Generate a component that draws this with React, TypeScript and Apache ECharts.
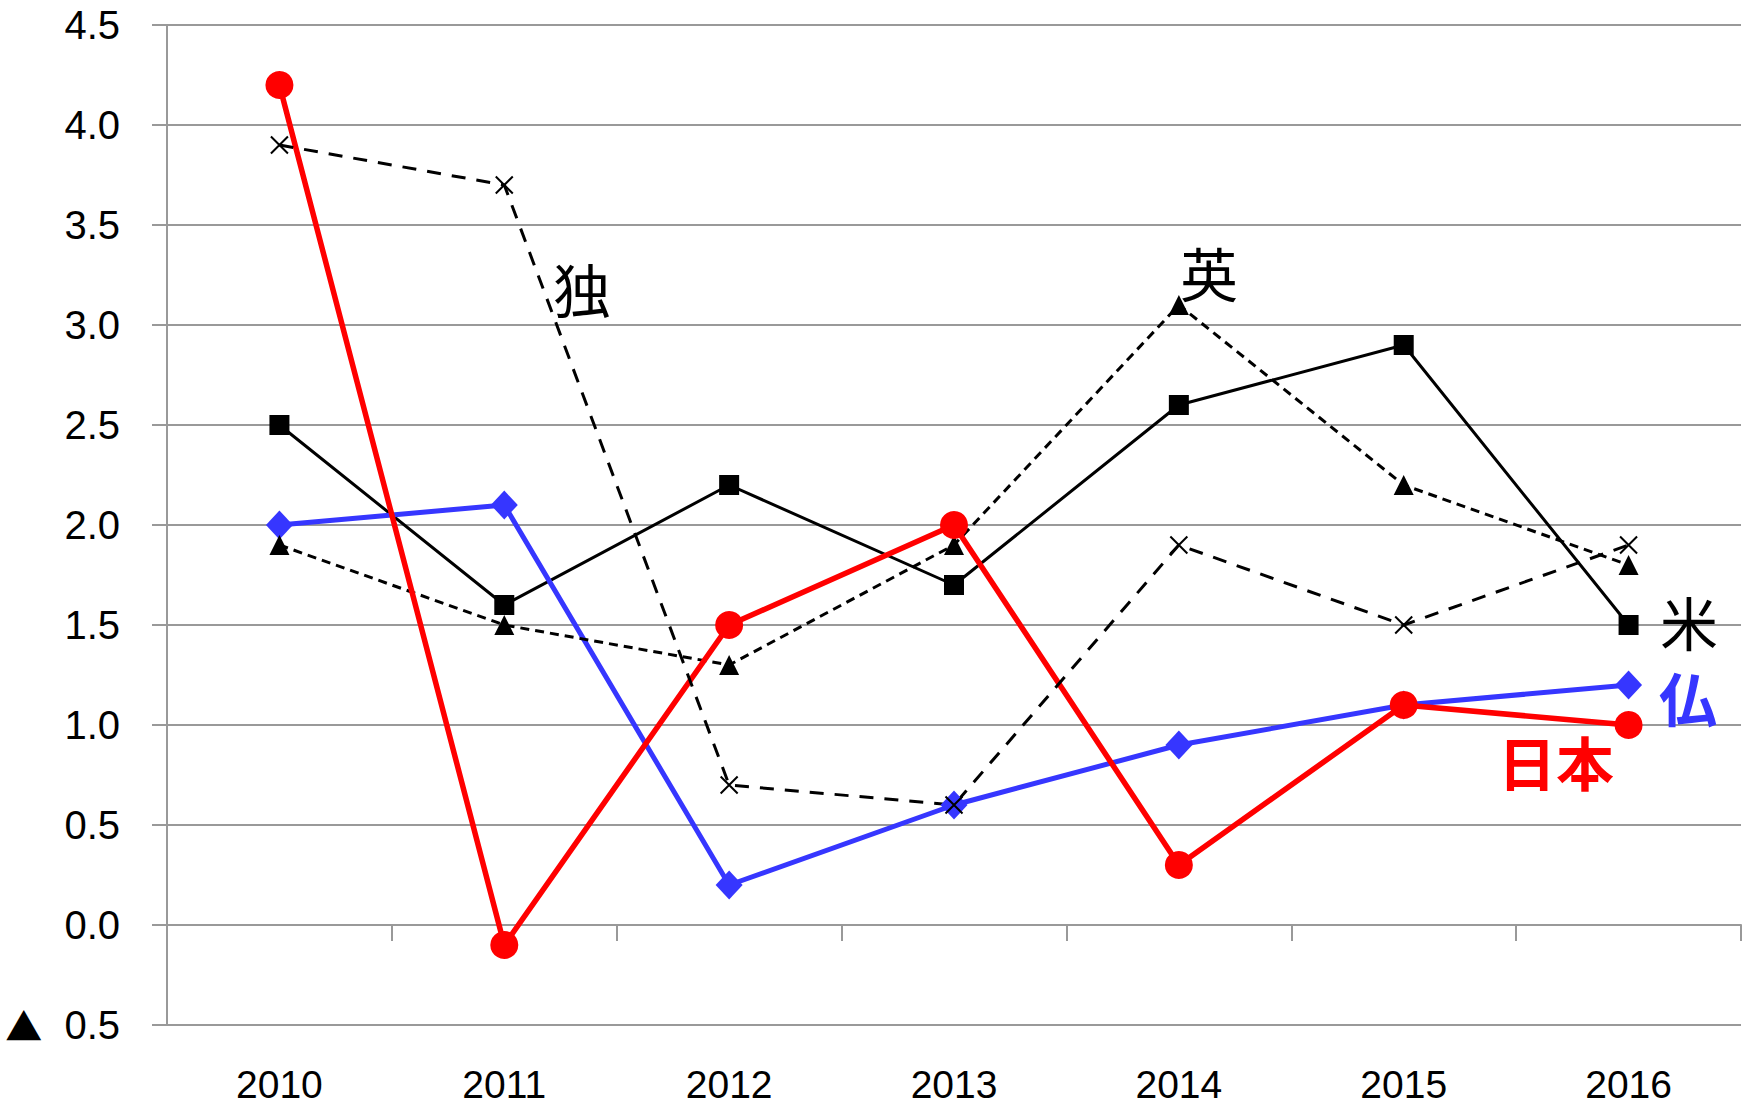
import React, { useEffect, useRef } from "react";
import * as echarts from "echarts";

// ---- data ----
const years = ["2010", "2011", "2012", "2013", "2014", "2015", "2016"];
const usValues = [2.5, 1.6, 2.2, 1.7, 2.6, 2.9, 1.5];
const franceValues = [2.0, 2.1, 0.2, 0.6, 0.9, 1.1, 1.2];
const japanValues = [4.2, -0.1, 1.5, 2.0, 0.3, 1.1, 1.0];
const ukValues = [1.9, 1.5, 1.3, 1.9, 3.1, 2.2, 1.8];
const germanyValues = [3.9, 3.7, 0.7, 0.6, 1.9, 1.5, 1.9];
const seriesNames = ["米", "仏", "英", "日本", "独"];
const yMin = -0.5;
const yMax = 4.5;
const yStep = 0.5;

// ---- styling / layout ----
const GRID = "#999999";
const BLUE = "#3636ff";
const RED = "#ff0000";
const AXIS_FONT = "Liberation Sans";
const annotationLayout = [
  { text: "独", x: 582, y: 288, color: "#000", weight: "normal" },
  { text: "英", x: 1209, y: 272, color: "#000", weight: "normal" },
  { text: "米", x: 1689, y: 621, color: "#000", weight: "normal" },
  { text: "仏", x: 1688, y: 697, color: BLUE, weight: "bold" },
  { text: "日本", x: 1556, y: 761, color: RED, weight: "bold" },
];

const yFormatter = (v: number) =>
  v < 0 ? "{tri|▲}  " + Math.abs(v).toFixed(1) : v.toFixed(1);

export default function App() {
  const ref = useRef<HTMLDivElement>(null);
  useEffect(() => {
    if (!ref.current) return;
    const chart = echarts.init(ref.current, null, { renderer: "svg" });
    const option: any = {
      animation: false,
      backgroundColor: "#ffffff",
      grid: { left: 167, right: 7, top: 25, bottom: 82 },
      xAxis: [
        {
          type: "category",
          data: years,
          position: "bottom",
          boundaryGap: true,
          axisLine: { show: true, onZero: true, lineStyle: { color: GRID, width: 2 } },
          axisTick: { show: true, length: 16, interval: 0, lineStyle: { color: GRID, width: 2 } },
          axisLabel: { show: false },
          splitLine: { show: false },
        },
        {
          type: "category",
          data: years,
          position: "bottom",
          boundaryGap: true,
          axisLine: { show: false, onZero: false },
          axisTick: { show: false },
          axisLabel: {
            show: true,
            interval: 0,
            margin: 42,
            fontSize: 39,
            lineHeight: 34,
            fontFamily: AXIS_FONT,
            color: "#000",
          },
          splitLine: { show: false },
        },
      ],
      yAxis: {
        type: "value",
        min: yMin,
        max: yMax,
        interval: yStep,
        axisLine: { show: true, lineStyle: { color: GRID, width: 2 } },
        axisTick: { show: true, length: 15, lineStyle: { color: GRID, width: 2 } },
        splitLine: { show: true, lineStyle: { color: GRID, width: 2 } },
        axisLabel: {
          formatter: yFormatter,
          fontSize: 40,
          lineHeight: 38,
          fontFamily: AXIS_FONT,
          color: "#000",
          margin: 47,
          rich: {
            tri: {
              fontSize: 37,
              lineHeight: 38,
              fontFamily: "Noto Sans CJK JP",
              color: "#000",
            },
          },
        },
      },
      series: [
        {
          name: seriesNames[0],
          type: "line",
          data: usValues,
          symbol: "rect",
          symbolSize: 20,
          itemStyle: { color: "#000", borderWidth: 0 },
          lineStyle: { color: "#000", width: 3 },
        },
        {
          name: seriesNames[1],
          type: "line",
          data: franceValues,
          symbol: "diamond",
          symbolSize: [27, 29],
          itemStyle: { color: BLUE, borderWidth: 0 },
          lineStyle: { color: BLUE, width: 5 },
        },
        {
          name: seriesNames[2],
          type: "line",
          data: ukValues,
          symbol: "triangle",
          symbolSize: 20,
          itemStyle: { color: "#000", borderWidth: 0 },
          lineStyle: { color: "#000", width: 3, type: [9, 6] },
        },
        {
          name: seriesNames[3],
          type: "line",
          data: japanValues,
          symbol: "circle",
          symbolSize: 28,
          itemStyle: { color: RED, borderWidth: 0 },
          lineStyle: { color: RED, width: 5.5 },
        },
        {
          name: seriesNames[4],
          type: "line",
          data: germanyValues,
          symbol: "path://M0,0L10,10M10,0L0,10",
          symbolSize: 17,
          itemStyle: { color: "none", borderColor: "#000", borderWidth: 2 },
          lineStyle: { color: "#000", width: 3, type: [14, 11] },
        },
      ],
      graphic: annotationLayout.map((a) => ({
        type: "text",
        x: a.x,
        y: a.y,
        z: 100,
        style: {
          text: a.text,
          fill: a.color,
          fontSize: 58,
          fontWeight: a.weight,
          fontFamily: "Noto Sans CJK JP",
          align: "center",
          verticalAlign: "middle",
        },
      })),
    };
    chart.setOption(option);
    return () => chart.dispose();
  }, []);
  return (
    <div
      ref={ref}
      style={{ position: "absolute", left: 0, top: 0, width: 1748, height: 1107 }}
    />
  );
}
